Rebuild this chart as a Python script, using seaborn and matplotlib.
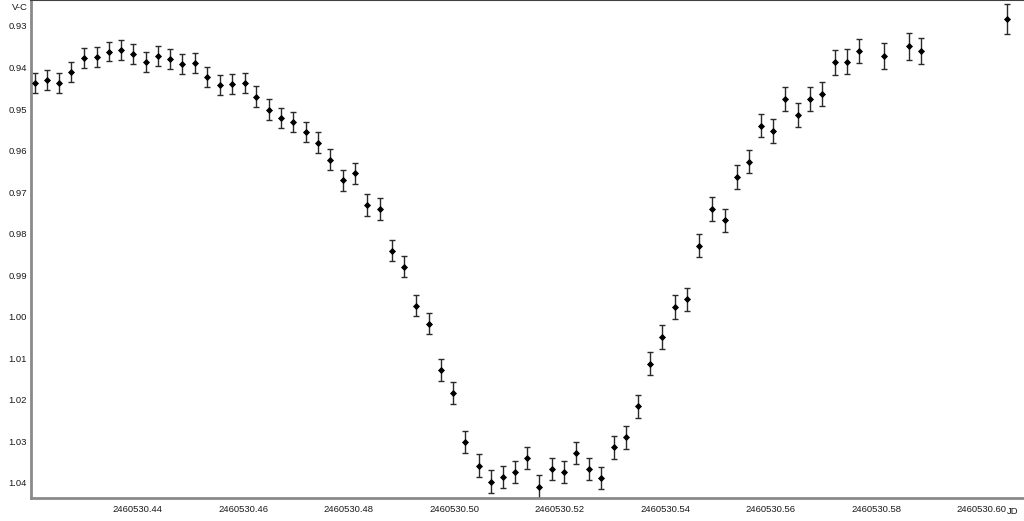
import numpy as np
import pandas as pd
import matplotlib
matplotlib.use('Agg')
import matplotlib.pyplot as plt
import seaborn as sns

# Dados (JD - 2460530, V-C e erro)
jd_frac = [0.42057, 0.42290, 0.42518, 0.42745, 0.42986, 0.43227, 0.43460, 0.43693,
           0.43920, 0.44155, 0.44389, 0.44622, 0.44849, 0.45084, 0.45318, 0.45564,
           0.45797, 0.46032, 0.46252, 0.46493, 0.46720, 0.46954, 0.47189, 0.47422,
           0.47649, 0.47896, 0.48129, 0.48356, 0.48591, 0.48825, 0.49052, 0.49285,
           0.49520, 0.49754, 0.49975, 0.50214, 0.50468, 0.50696, 0.50923, 0.51156,
           0.51384, 0.51617, 0.51852, 0.52080, 0.52318, 0.52559, 0.52787, 0.53028,
           0.53261, 0.53488, 0.53721, 0.53949, 0.54184, 0.54417, 0.54650, 0.54891,
           0.55132, 0.55359, 0.55587, 0.55820, 0.56053, 0.56281, 0.56516, 0.56749,
           0.56976, 0.57228, 0.57456, 0.57684, 0.58152, 0.58620, 0.58848, 0.60484]
v_c = [0.94366, 0.94301, 0.94366, 0.94115, 0.93763, 0.93747, 0.93619, 0.93578,
       0.93674, 0.93860, 0.93715, 0.93802, 0.93908, 0.93884, 0.94221, 0.94428,
       0.94390, 0.94373, 0.94703, 0.95016, 0.95216, 0.95312, 0.95553, 0.95811,
       0.96220, 0.96716, 0.96548, 0.97318, 0.97408, 0.98412, 0.98797, 0.99736,
       1.00170, 1.01292, 1.01846, 1.03019, 1.03590, 1.03975, 1.03869, 1.03735,
       1.03405, 1.04096, 1.03670, 1.03735, 1.03291, 1.03670, 1.03886, 1.03147,
       1.02906, 1.02159, 1.01133, 1.00490, 0.99768, 0.99582, 0.98291, 0.97408,
       0.97680, 0.96637, 0.96268, 0.95401, 0.95529, 0.94758, 0.95144, 0.94758,
       0.94645, 0.93874, 0.93860, 0.93602, 0.93715, 0.93489, 0.93602, 0.92831]
erro = [0.0024, 0.0024, 0.0024, 0.0024, 0.0024, 0.0024, 0.0023, 0.0023,
        0.0024, 0.0024, 0.0024, 0.0024, 0.0024, 0.0024, 0.0024, 0.0024,
        0.0024, 0.0024, 0.0025, 0.0025, 0.0025, 0.0025, 0.0025, 0.0025,
        0.0025, 0.0025, 0.0026, 0.0026, 0.0026, 0.0026, 0.0026, 0.0026,
        0.0026, 0.0026, 0.0026, 0.0026, 0.0027, 0.0027, 0.0027, 0.0027,
        0.0027, 0.0027, 0.0027, 0.0027, 0.0027, 0.0027, 0.0027, 0.0027,
        0.0027, 0.0028, 0.0028, 0.0028, 0.0028, 0.0028, 0.0028, 0.0028,
        0.0028, 0.0028, 0.0028, 0.0028, 0.0028, 0.0029, 0.0029, 0.0029,
        0.0029, 0.0030, 0.0030, 0.0030, 0.0031, 0.0032, 0.0031, 0.0035]

jd_base = 2460530
x_ticks = [0.44, 0.46, 0.48, 0.50, 0.52, 0.54, 0.56, 0.58, 0.60]
y_ticks = [0.93, 0.94, 0.95, 0.96, 0.97, 0.98, 0.99, 1.00, 1.01, 1.02, 1.03, 1.04]

df = pd.DataFrame({'JD': [jd_base + f for f in jd_frac], 'V-C': v_c, 'erro': erro})

sns.set_style('white')
plt.rcParams['font.family'] = ['Liberation Sans', 'DejaVu Sans']

fig = plt.figure(figsize=(10.24, 5.21), dpi=100)
ax = fig.add_axes([31 / 1024, 23 / 521, 1 - 31 / 1024, 498 / 521])

# Barras de erro
ax.errorbar(df['JD'], df['V-C'], yerr=df['erro'], fmt='none',
            ecolor='#2a2a2a', elinewidth=1.0, capsize=2.3, capthick=1.0, zorder=2)
# Pontos
sns.scatterplot(x='JD', y='V-C', data=df, ax=ax, color='black', marker='D',
                s=9, edgecolor='black', linewidth=0.6, zorder=3, legend=False)

ax.set_xlim(jd_base + 0.41981, jd_base + 0.60806)
ax.set_ylim(1.04368, 0.92374)

ax.set_xticks([jd_base + t for t in x_ticks])
ax.set_xticklabels(['%.2f' % (jd_base + t) for t in x_ticks])
ax.set_yticks(y_ticks)
ax.set_yticklabels(['%.2f' % t for t in y_ticks])
ax.tick_params(axis='both', length=0, labelsize=6.8, colors='#1a1a1a')
ax.tick_params(axis='x', pad=5)
ax.tick_params(axis='y', pad=3)
ax.set_xlabel('')
ax.set_ylabel('')

for lado in ['left', 'bottom']:
    ax.spines[lado].set_color('#8a8a8a')
    ax.spines[lado].set_linewidth(2)
ax.spines['top'].set_color('#404040')
ax.spines['top'].set_linewidth(1.5)
ax.spines['right'].set_visible(False)

fig.text(19.5 / 1024, 1 - 8 / 521, 'V-C', fontsize=6.8, color='#1a1a1a',
         ha='center', va='center')
fig.text(1013 / 1024, 1 - 512 / 521, 'JD', fontsize=6.8, color='#1a1a1a',
         ha='center', va='center')

fig.savefig('out.png', dpi=100)
